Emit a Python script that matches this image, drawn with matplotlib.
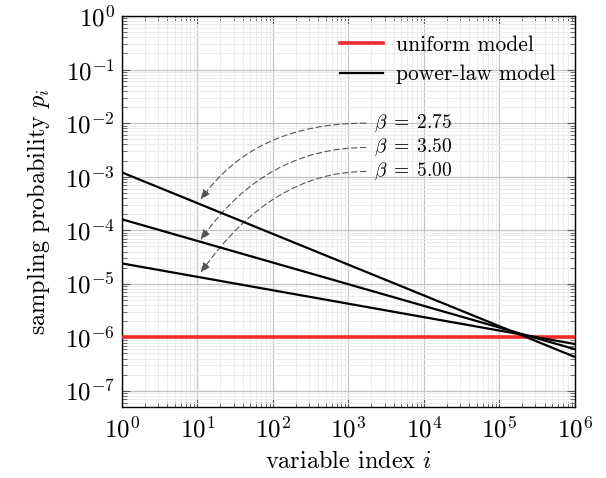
import matplotlib
matplotlib.use("Agg")
import matplotlib.pyplot as plt
from matplotlib.ticker import LogLocator, NullFormatter

plt.rcParams['font.family'] = ['cmr10', 'DejaVu Serif']
plt.rcParams['mathtext.fontset'] = 'cm'
plt.rcParams['axes.formatter.use_mathtext'] = True
plt.rcParams['axes.unicode_minus'] = False

# data
index_range = [1, 1e6]
uniform_p = [1e-6, 1e-6]
betas = ["2.75", "3.50", "5.00"]
powerlaw_p = [[1.2e-3, 4.3e-7],
              [1.6e-4, 6.0e-7],
              [2.4e-5, 7.5e-7]]
label_y = [1.0e-2, 3.5e-3, 1.25e-3]
arrow_y = [3.7e-4, 6.6e-5, 1.6e-5]
label_x = 1.7e3
arrow_x = 11
x_ticks = [1e0, 1e1, 1e2, 1e3, 1e4, 1e5, 1e6]
y_ticks = [1e-7, 1e-6, 1e-5, 1e-4, 1e-3, 1e-2, 1e-1, 1e0]

fig = plt.figure(figsize=(6.06, 4.78), dpi=100)
ax = fig.add_axes([0.2013, 0.1485, 0.7475, 0.818])

ax.set_xscale('log')
ax.set_yscale('log')
ax.set_xlim(1, 1e6)
ax.set_ylim(5e-8, 1)

ax.plot(index_range, uniform_p, color='#f22a2a', lw=2.6, label='uniform model', zorder=3)
for i, p in enumerate(powerlaw_p):
    ax.plot(index_range, p, color='black', lw=1.6,
            label='power-law model' if i == 0 else None, zorder=4)

for b, ty, ay in zip(betas, label_y, arrow_y):
    ax.text(label_x * 1.3, ty, r'$\beta\;=\;%s$' % b, fontsize=14, va='center', ha='left')
    ax.annotate('', xy=(arrow_x, ay), xytext=(label_x, ty),
                arrowprops=dict(arrowstyle='-|>,head_length=0.6,head_width=0.25',
                                color='#555555', lw=0.8, linestyle=(0, (5, 3)),
                                connectionstyle='angle3,angleA=0,angleB=55',
                                shrinkA=0, shrinkB=0))

ax.set_xticks(x_ticks)
ax.set_yticks(y_ticks)
ax.xaxis.set_minor_locator(LogLocator(base=10, subs=range(2, 10), numticks=20))
ax.yaxis.set_minor_locator(LogLocator(base=10, subs=range(2, 10), numticks=20))
ax.xaxis.set_minor_formatter(NullFormatter())
ax.yaxis.set_minor_formatter(NullFormatter())
ax.set_xlim(1, 1e6)
ax.set_ylim(5e-8, 1)

ax.grid(which='major', color='#c4c4c4', lw=0.9)
ax.grid(which='minor', color='#ececec', lw=0.7)
ax.set_axisbelow(True)

ax.tick_params(which='both', direction='in', top=True, right=True, labelsize=18, colors='black')
ax.tick_params(which='major', length=6, width=0.8, color='#555555')
ax.tick_params(which='minor', length=3.5, width=0.6, color='#555555')
ax.tick_params(axis='x', pad=7)
ax.tick_params(axis='y', pad=5)
for s in ax.spines.values():
    s.set_linewidth(1.0)

ax.set_xlabel('variable index $i$', fontsize=17.5, labelpad=6)
ax.set_ylabel('sampling probability $p_i$', fontsize=17.5, labelpad=9)

ax.legend(loc='upper right', frameon=False, fontsize=15.5, handlelength=2.0,
          borderaxespad=0.5, labelspacing=0.45, handletextpad=0.6)

fig.savefig('out.png', dpi=100)
